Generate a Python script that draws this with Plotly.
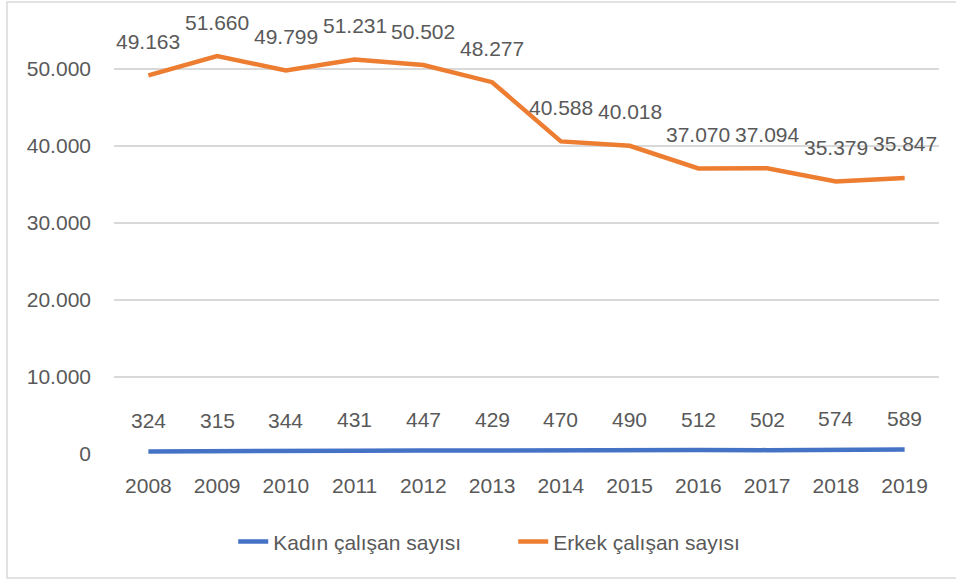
import plotly.graph_objects as go

years = ["2008", "2009", "2010", "2011", "2012", "2013", "2014", "2015", "2016", "2017", "2018", "2019"]
kadin = [324, 315, 344, 431, 447, 429, 470, 490, 512, 502, 574, 589]
erkek = [49163, 51660, 49799, 51231, 50502, 48277, 40588, 40018, 37070, 37094, 35379, 35847]
y_ticks = [0, 10000, 20000, 30000, 40000, 50000]
y_tick_text = ["0", "10.000", "20.000", "30.000", "40.000", "50.000"]

blue = "#4472C4"
orange = "#ED7D31"
grey = "#595959"
font = "Liberation Sans, Arial, sans-serif"

def fmt(v):
    # thousands separator as dot
    return "{:,}".format(v).replace(",", ".")

fig = go.Figure()
fig.add_trace(go.Scatter(x=years, y=kadin, mode="lines", name="Kadın çalışan sayısı",
                         line=dict(color=blue, width=4.5)))
fig.add_trace(go.Scatter(x=years, y=erkek, mode="lines", name="Erkek çalışan sayısı",
                         line=dict(color=orange, width=4.5)))

# data labels above points (x given as category index)
for series, shift in ((kadin, 31), (erkek, 34)):
    for i, v in enumerate(series):
        fig.add_annotation(x=i, y=v, text=fmt(v), showarrow=False, yshift=shift,
                           font=dict(size=21, color=grey, family=font))

# chart border
fig.add_shape(type="rect", xref="paper", yref="paper",
              x0=-0.1297, x1=1.025, y0=-0.2825, y1=1.0296,
              line=dict(color="#D9D9D9", width=1.5))

fig.update_layout(
    width=956, height=581,
    margin=dict(l=114, r=17, t=15, b=127),
    paper_bgcolor="white", plot_bgcolor="white",
    font=dict(family=font, color=grey, size=21),
    showlegend=True,
    legend=dict(orientation="h", x=0.1445, xanchor="left", y=-0.2, yanchor="middle",
                entrywidth=235, font=dict(size=21, color=grey)),
    xaxis=dict(type="category", range=[-0.5, 11.5], showgrid=False, showline=False,
               ticks="", tickfont=dict(size=21, color=grey)),
    yaxis=dict(range=[0, 57000], tickvals=y_ticks, ticktext=y_tick_text,
               showgrid=True, gridcolor="#D9D9D9", gridwidth=1.5, zeroline=False,
               showline=False, ticks="", tickfont=dict(size=21, color=grey)),
)
fig.update_xaxes(ticklabelstandoff=17)
fig.update_yaxes(ticklabelstandoff=22)

# drop the default page margin so the figure sits at the window corner
fig.write_html("out.html", config={"displayModeBar": False},
               post_script="document.body.style.margin='0';")
